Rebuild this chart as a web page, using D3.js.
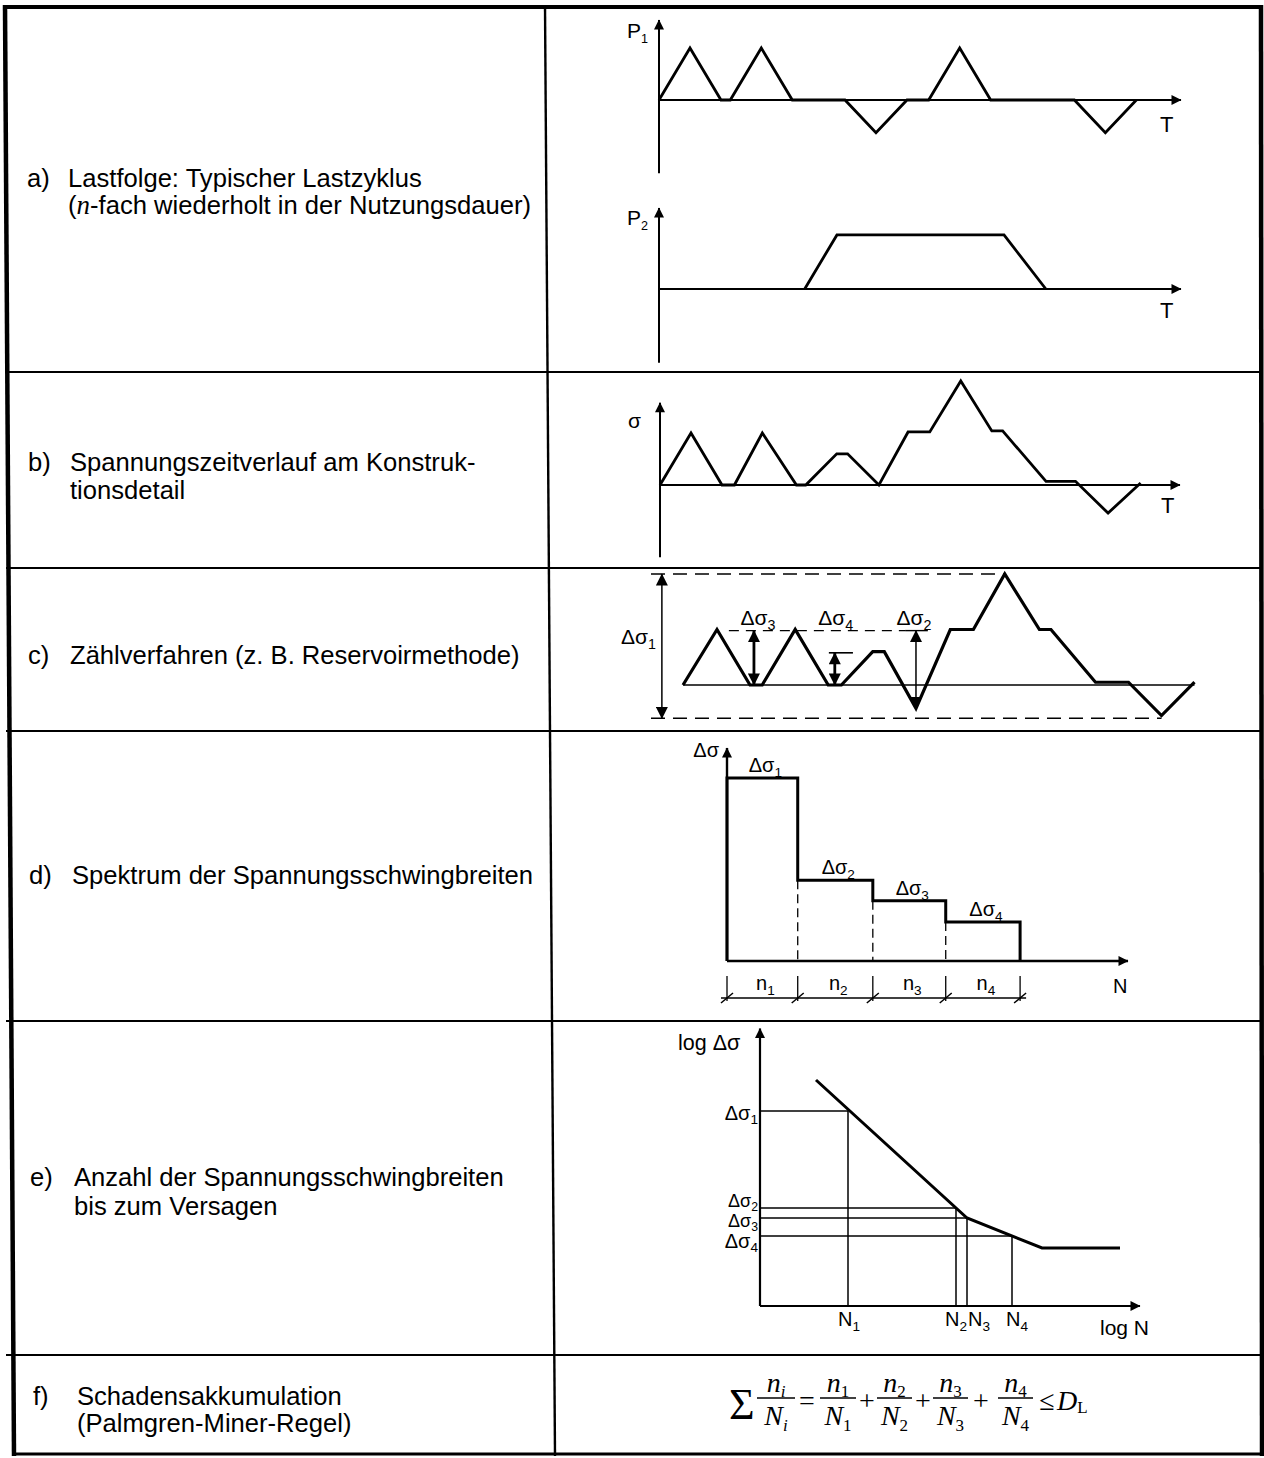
<!DOCTYPE html>
<html>
<head>
<meta charset="utf-8">
<script src="https://cdn.jsdelivr.net/npm/d3@7"></script>
<style>
  html, body { margin: 0; padding: 0; background: #fff; }
  svg { display: block; }
  text { font-family: "Liberation Sans", Arial, sans-serif; fill: #000; }
  .serif { font-family: "Liberation Serif", "Times New Roman", serif; }
</style>
</head>
<body>
<svg id="chart" width="1264" height="1458"></svg>
<script>
// ---------- data ----------
// a) load sequence, load P1 over time T (one typical cycle)
const p1Time = [0, 1, 2, 2.3, 3.3, 4.3, 6, 7, 8, 8.7, 9.7, 10.7, 13.4, 14.4, 15.4];
const p1Load = [0, 1, 0, 0, 1, 0, 0, -0.63, 0, 0, 1, 0, 0, -0.63, 0];
// a) load P2 (trapezoid)
const p2Time = [4.7, 5.74, 11.13, 12.48];
const p2Load = [0, 1.04, 1.04, 0];
// b) stress history at the detail
const bTime = [0, 1, 2, 2.4, 3.3, 4.4, 4.7, 5.7, 6.05, 7.06, 8.0, 8.7, 9.7, 10.7, 11.05, 12.45, 13.4, 14.45, 15.5];
const bStress = [0, 1, 0, 0, 1, 0, 0, 0.6, 0.6, 0, 1.02, 1.02, 2.0, 1.04, 1.04, 0.07, 0.07, -0.54, 0.04];
// c) counting (reservoir method)
const cTime = [0, 1.03, 2.03, 2.4, 3.4, 4.4, 4.8, 5.75, 6.1, 7.06, 8.1, 8.8, 9.75, 10.8, 11.15, 12.5, 13.5, 14.5, 15.5];
const cStress = [0, 1, 0, 0, 1, 0, 0, 0.6, 0.6, -0.42, 1, 1, 2, 1, 1, 0.05, 0.05, -0.55, 0.05];
const cRangeSub = ["1", "3", "4", "2"];
const cRangeTime = [-0.64, 2.15, 4.6, 7.06];
const cRangeTop = [2.0, 0.98, 0.58, 0.98];
const cRangeBottom = [-0.6, 0, 0, -0.42];
// d) stress range spectrum
const dRangeSub = ["1", "2", "3", "4"];
const dRange = [2.49, 1.1, 0.82, 0.53];
const dCycles = [0.97, 1.03, 1.0, 1.02];
// e) S-N curve (log N, log Δσ) and endurance per range
const eCurveLogN = [1.12, 4.14, 5.64, 7.2];
const eCurveLogS = [4.52, 1.76, 1.16, 1.16];
const eRangeSub = ["1", "2", "3", "4"];
const eRangeLogS = [3.9, 1.96, 1.76, 1.4];
const eEnduranceLogN = [1.76, 3.92, 4.14, 5.04];
// left column captions
const captionTags = ["a)", "b)", "c)", "d)", "e)", "f)"];

// ---------- setup ----------
const svg = d3.select("#chart");
svg.append("rect").attr("width", 1264).attr("height", 1458).attr("fill", "#fff");
const defs = svg.append("defs");
function marker(id, w, h) {
  defs.append("marker").attr("id", id)
    .attr("viewBox", "0 0 10 10").attr("refX", 9.5).attr("refY", 5)
    .attr("markerUnits", "userSpaceOnUse")
    .attr("markerWidth", w).attr("markerHeight", h)
    .attr("orient", "auto-start-reverse")
    .append("path").attr("d", "M0,0 L10,5 L0,10 Z").attr("fill", "#000");
}
marker("ax", 17, 10);
marker("rng", 15, 12);
marker("rngS", 15, 12);

function seg(g, x1, y1, x2, y2, w, opts = {}) {
  const l = g.append("line").attr("x1", x1).attr("y1", y1).attr("x2", x2).attr("y2", y2)
    .attr("stroke", "#000").attr("stroke-width", w).attr("stroke-linecap", opts.cap || "butt");
  if (opts.dash) l.attr("stroke-dasharray", opts.dash);
  if (opts.end) l.attr("marker-end", `url(#${opts.end})`);
  if (opts.start) l.attr("marker-start", `url(#${opts.start})`);
  return l;
}
function label(g, x, y, main, sub, opts = {}) {
  const size = opts.size || 20;
  const t = g.append("text").attr("x", x).attr("y", y).attr("font-size", size)
    .attr("text-anchor", opts.anchor || "start");
  if (opts.family) t.attr("font-family", opts.family);
  t.append("tspan").text(main);
  if (sub) {
    t.append("tspan").attr("font-size", size * (opts.subScale || 0.68))
      .attr("dy", size * (opts.subDy || 0.26)).text(sub);
  }
  return t;
}
function polyline(g, xs, ys, xScale, yScale, w) {
  return g.append("path").datum(d3.zip(xs, ys))
    .attr("d", d3.line().x(d => xScale(d[0])).y(d => yScale(d[1])))
    .attr("fill", "none").attr("stroke", "#000").attr("stroke-width", w)
    .attr("stroke-linejoin", "miter");
}

// ---------- table frame ----------
const frame = svg.append("g");
const rowLines = [372, 568, 731, 1021, 1355];
rowLines.forEach(y => seg(frame, 6, y, 1261, y, 2.2));
seg(frame, 5, 5, 14, 1456, 4.5);          // left border
seg(frame, 545, 5, 555, 1456, 2.4);       // column divider
seg(frame, 1261, 5, 1262, 1456, 4.5);     // right border
seg(frame, 3, 7, 1263, 7, 4.2);           // top border
seg(frame, 12, 1454, 1263, 1454, 3.2);    // bottom border

// ---------- left column captions ----------
const capSize = 25.6;
const cap = svg.append("g");
function caption(x, y, str) {
  return cap.append("text").attr("x", x).attr("y", y).attr("font-size", capSize).text(str);
}
const tagPos = [[27, 187], [28, 471], [28, 664], [29, 884], [30, 1186], [33, 1405]];
captionTags.forEach((t, i) => caption(tagPos[i][0], tagPos[i][1], t));
caption(68, 187, "Lastfolge: Typischer Lastzyklus");
const a2 = cap.append("text").attr("x", 68).attr("y", 214).attr("font-size", capSize);
a2.append("tspan").text("(");
a2.append("tspan").attr("class", "serif").attr("font-style", "italic").attr("font-size", 27).text("n");
a2.append("tspan").text("-fach wiederholt in der Nutzungsdauer)");
caption(70, 471, "Spannungszeitverlauf am Konstruk-");
caption(70, 499, "tionsdetail");
caption(70, 664, "Zählverfahren (z. B. Reservoirmethode)");
caption(72, 884, "Spektrum der Spannungsschwingbreiten");
caption(74, 1186, "Anzahl der Spannungsschwingbreiten");
caption(74, 1215, "bis zum Versagen");
caption(77, 1405, "Schadensakkumulation");
caption(77, 1432, "(Palmgren-Miner-Regel)");

// ---------- a) P1 ----------
const xa = d3.scaleLinear().domain([0, 16.84]).range([659, 1181]);
const ya1 = d3.scaleLinear().domain([0, 1]).range([100, 48]);
const gA1 = svg.append("g");
seg(gA1, xa(0), ya1(-1.41), xa(0), ya1(1.54), 2, { end: "ax" });
seg(gA1, xa(0), ya1(0), xa(16.84), ya1(0), 2, { end: "ax" });
polyline(gA1, p1Time, p1Load, xa, ya1, 2.8);
label(gA1, 627, 38, "P", "1", { size: 21, subScale: 0.6 });
label(gA1, 1160, 132, "T", null, { size: 22 });

// ---------- a) P2 ----------
const ya2 = d3.scaleLinear().domain([0, 1]).range([289, 237]);
const gA2 = svg.append("g");
seg(gA2, xa(0), ya2(-1.42), xa(0), ya2(1.56), 2, { end: "ax" });
seg(gA2, xa(0), ya2(0), xa(16.84), ya2(0), 2, { end: "ax" });
polyline(gA2, p2Time, p2Load, xa, ya2, 2.8);
label(gA2, 627, 225, "P", "2", { size: 21, subScale: 0.6 });
label(gA2, 1160, 318, "T", null, { size: 22 });

// ---------- b) stress history ----------
const xb = d3.scaleLinear().domain([0, 16.77]).range([660, 1180]);
const yb = d3.scaleLinear().domain([0, 1]).range([485, 433]);
const gB = svg.append("g");
seg(gB, xb(0), yb(-1.39), xb(0), yb(1.58), 2, { end: "ax" });
seg(gB, xb(0), yb(0), xb(16.77), yb(0), 2, { end: "ax" });
polyline(gB, bTime, bStress, xb, yb, 2.8);
label(gB, 628, 428, "σ", null, { size: 21, family: "Liberation Serif" });
label(gB, 1161, 513, "T", null, { size: 22 });

// ---------- c) reservoir counting ----------
const xc = d3.scaleLinear().domain([0, 1]).range([683, 716]);
const yc = d3.scaleLinear().domain([0, 1]).range([685, 629.5]);
const gC = svg.append("g");
// reference lines
seg(gC, xc(-0.97), yc(2.0), xc(9.75), yc(2.0), 1.6, { dash: "14,8" });
seg(gC, xc(-0.97), yc(-0.6), xc(14.5), yc(-0.6), 1.6, { dash: "14,8" });
seg(gC, xc(1.39), yc(0.98), xc(6.73), yc(0.98), 1.4, { dash: "10,7" });
seg(gC, xc(6.73), yc(0.98), xc(7.42), yc(0.98), 1.4);
seg(gC, xc(4.42), yc(0.58), xc(5.15), yc(0.58), 1.6);
seg(gC, xc(0), yc(0), xc(15.5), yc(0), 1.6);
polyline(gC, cTime, cStress, xc, yc, 3.2);
// range arrows
cRangeSub.forEach((s, i) => {
  const thick = (s === "3" || s === "4");
  const mk = s === "4" ? "rngS" : "rng";
  seg(gC, xc(cRangeTime[i]), yc(cRangeBottom[i]), xc(cRangeTime[i]), yc(cRangeTop[i]),
      thick ? 2.8 : 1.5, { start: mk, end: mk });
});
label(gC, 656, 644, "Δσ", "1", { size: 21, anchor: "end" });
label(gC, xc(cRangeTime[1]) + 4, 625, "Δσ", "3", { size: 21, anchor: "middle" });
label(gC, xc(cRangeTime[2]) + 1, 625, "Δσ", "4", { size: 21, anchor: "middle" });
label(gC, xc(cRangeTime[3]) - 2, 625, "Δσ", "2", { size: 21, anchor: "middle" });

// ---------- d) spectrum ----------
const xd = d3.scaleLinear().domain([0, 5.5]).range([727, 1128]);
const yd = d3.scaleLinear().domain([0, 2.9]).range([961, 748]);
const gD = svg.append("g");
const dBounds = [0];
dCycles.forEach(c => dBounds.push(dBounds[dBounds.length - 1] + c));
// dashed separators between blocks
for (let i = 1; i < 4; i++) {
  seg(gD, xd(dBounds[i]), yd(dRange[i]), xd(dBounds[i]), yd(0), 1.3, { dash: "9,5" });
}
seg(gD, xd(0), yd(0), xd(0), yd(2.9), 2.4, { end: "ax" });
seg(gD, xd(0), yd(0), xd(5.5), yd(0), 2.4, { end: "ax" });
// step outline
const stepPts = [[0, 0]];
dRange.forEach((r, i) => { stepPts.push([dBounds[i], r]); stepPts.push([dBounds[i + 1], r]); });
stepPts.push([dBounds[4], 0]);
gD.append("path").datum(stepPts)
  .attr("d", d3.line().x(d => xd(d[0])).y(d => yd(d[1])))
  .attr("fill", "none").attr("stroke", "#000").attr("stroke-width", 3).attr("stroke-linejoin", "miter");
dRangeSub.forEach((s, i) => {
  label(gD, xd((dBounds[i] + dBounds[i + 1]) / 2) + 3, yd(dRange[i]) - 6, "Δσ", s, { size: 20, anchor: "middle" });
});
label(gD, 719, 757, "Δσ", null, { size: 20, anchor: "end" });
label(gD, 1113, 993, "N", null, { size: 20 });
// dimension chain n1..n4
const dimY = 998;
seg(gD, xd(0) - 6, dimY, xd(dBounds[4]) + 6, dimY, 1.3);
dBounds.forEach(b => {
  seg(gD, xd(b), dimY - 22, xd(b), dimY + 3, 1.3);
  seg(gD, xd(b) - 6, dimY + 5, xd(b) + 6, dimY - 5, 1.5);
});
dCycles.forEach((c, i) => {
  label(gD, xd((dBounds[i] + dBounds[i + 1]) / 2) + 3, 990, "n", String(i + 1), { size: 20, anchor: "middle" });
});

// ---------- e) S-N curve ----------
const xe = d3.scaleLinear().domain([0, 7.6]).range([760, 1140]);
const ye = d3.scaleLinear().domain([0, 5.5]).range([1306, 1031]);
const gE = svg.append("g");
eRangeLogS.forEach((s, i) => {
  seg(gE, xe(0), ye(s), xe(eEnduranceLogN[i]), ye(s), 1.5);
  seg(gE, xe(eEnduranceLogN[i]), ye(s), xe(eEnduranceLogN[i]), ye(0), 1.5);
});
seg(gE, xe(0), ye(0), xe(0), ye(5.55), 2.2, { end: "ax" });
seg(gE, xe(0), ye(0), xe(7.6), ye(0), 2.2, { end: "ax" });
polyline(gE, eCurveLogN, eCurveLogS, xe, ye, 3);
const eLabelNudge = [9, -1, 9, 12];
const eLabelSize = [20, 18, 18, 20];
eRangeSub.forEach((s, i) => {
  label(gE, 758, ye(eRangeLogS[i]) + eLabelNudge[i], "Δσ", s, { size: eLabelSize[i], anchor: "end", subDy: 0.2 });
});
label(gE, 678, 1050, "log Δσ", null, { size: 21.5 });
label(gE, 1100, 1335, "log N", null, { size: 21 });
label(gE, xe(eEnduranceLogN[0]) - 10, 1326, "N", "1", { size: 20 });
label(gE, xe(eEnduranceLogN[1]) - 11, 1326, "N", "2", { size: 20 });
label(gE, xe(eEnduranceLogN[2]) + 1, 1326, "N", "3", { size: 20 });
label(gE, xe(eEnduranceLogN[3]) - 6, 1326, "N", "4", { size: 20 });

// ---------- f) Palmgren-Miner sum ----------
const gF = svg.append("g").attr("class", "serif");
gF.append("text").attr("class", "serif").attr("x", 729).attr("y", 1419).attr("font-size", 44).text("Σ");
function frac(x1, x2, num, numSub, den, denSub, italicSub) {
  const cx = (x1 + x2) / 2;
  seg(gF, x1, 1398, x2, 1398, 1.3);
  const n = gF.append("text").attr("class", "serif").attr("x", cx).attr("y", 1392)
    .attr("text-anchor", "middle").attr("font-size", 28);
  n.append("tspan").attr("font-style", "italic").text(num);
  n.append("tspan").attr("font-size", 17).attr("dy", 5)
    .attr("font-style", italicSub ? "italic" : "normal").text(numSub);
  const d = gF.append("text").attr("class", "serif").attr("x", cx).attr("y", 1425)
    .attr("text-anchor", "middle").attr("font-size", 28);
  d.append("tspan").attr("font-style", "italic").text(den);
  d.append("tspan").attr("font-size", 17).attr("dy", 6)
    .attr("font-style", italicSub ? "italic" : "normal").text(denSub);
}
function op(x, s) {
  gF.append("text").attr("class", "serif").attr("x", x).attr("y", 1410)
    .attr("text-anchor", "middle").attr("font-size", 28).text(s);
}
const fracX = [[757, 795], [820, 856], [877, 912], [933, 968], [998, 1033]];
frac(fracX[0][0], fracX[0][1], "n", "i", "N", "i", true);
for (let k = 1; k <= 4; k++) frac(fracX[k][0], fracX[k][1], "n", String(k), "N", String(k), false);
op(807, "=");
op(867, "+");
op(923, "+");
op(981, "+");
op(1047, "≤");
const dl = gF.append("text").attr("class", "serif").attr("x", 1057).attr("y", 1410).attr("font-size", 28);
dl.append("tspan").attr("font-style", "italic").text("D");
dl.append("tspan").attr("font-size", 17).attr("dy", 3).text("L");
</script>
</body>
</html>
